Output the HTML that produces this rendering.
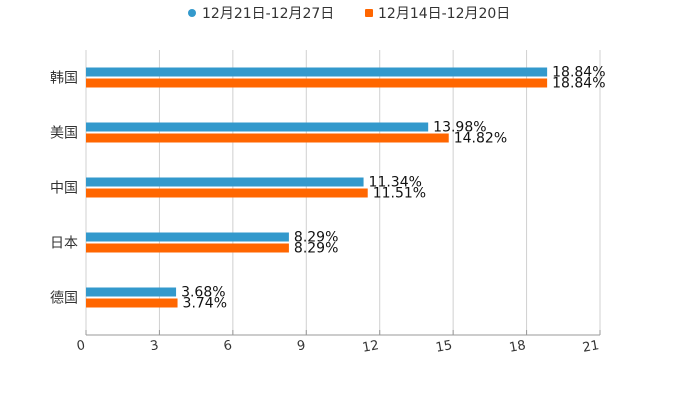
<!DOCTYPE html>
<html><head><meta charset="utf-8"><style>
html,body{margin:0;padding:0;background:#fff;}
svg{display:block;font-family:"DejaVu Sans","Noto Sans CJK SC",sans-serif;}
</style></head><body>
<svg id="chart" width="700" height="400"></svg>
<script>
const categories=["韩国","美国","中国","日本","德国"];
const seriesNames=["12月21日-12月27日","12月14日-12月20日"];
const seriesA=[18.84,13.98,11.34,8.29,3.68];
const seriesB=[18.84,14.82,11.51,8.29,3.74];
const ticks=[0,3,6,9,12,15,18,21];
const colors=["#3399cc","#ff6600"];
const NS="http://www.w3.org/2000/svg";
const svg=document.getElementById("chart");
const x0=86,x1=600,yTop=50,yBot=335,bandTop=50,band=55;
function xs(v){return x0+(v-0)/(21-0)*(x1-x0);}
function yc(i){return bandTop+band*i+band/2;}
function mk(t,a,p){const e=document.createElementNS(NS,t);for(const k in a)e.setAttribute(k,a[k]);(p||svg).appendChild(e);return e;}
ticks.forEach(t=>{
 const g=mk("line",{x1:xs(t),x2:xs(t),y1:yTop,y2:yBot,stroke:"#d0d0d0","stroke-width":1});
 
 
 const tk=mk("line",{x1:xs(t),x2:xs(t),y1:yBot-5,y2:yBot,stroke:"#999"});
 
 
 const l=mk("text",{x:xs(t)-1,y:yBot+14,"text-anchor":"end","font-size":13,fill:"#333",transform:`rotate(-10 ${xs(t)-1} ${yBot+10})`});
 l.textContent=t;
 
 
});
const ax=mk("line",{x1:x0,x2:x1,y1:yBot,y2:yBot,stroke:"#999"});


categories.forEach((c,i)=>{
 const y=yc(i);
 const cl=mk("text",{x:78,y:y+5,"text-anchor":"end","font-size":14,fill:"#333"});
 cl.textContent=c;
 
 
 [seriesA,seriesB].forEach((s,j)=>{
  const by=y-10+j*11;
  const r=mk("rect",{x:x0,y:by,width:xs(s[i])-x0,height:9,fill:colors[j]});
  
  
  const v=mk("text",{x:xs(s[i])+5,y:by+9,"font-size":14,fill:"#111"});
  v.textContent=s[i].toFixed(2)+"%";
  
  
 });
});
const lg=[{x:192,tx:202},{x:369,tx:378}];
seriesNames.forEach((n,j)=>{
 let m;
 if(j===0)m=mk("circle",{cx:lg[j].x,cy:13,r:4,fill:colors[j]});
 else m=mk("rect",{x:lg[j].x-4,y:9,width:8,height:8,rx:1,fill:colors[j]});
 
 
 const t=mk("text",{x:lg[j].tx,y:18,"font-size":14,fill:"#333"});
 t.textContent=n;
 
 
});
</script>
</body></html>
